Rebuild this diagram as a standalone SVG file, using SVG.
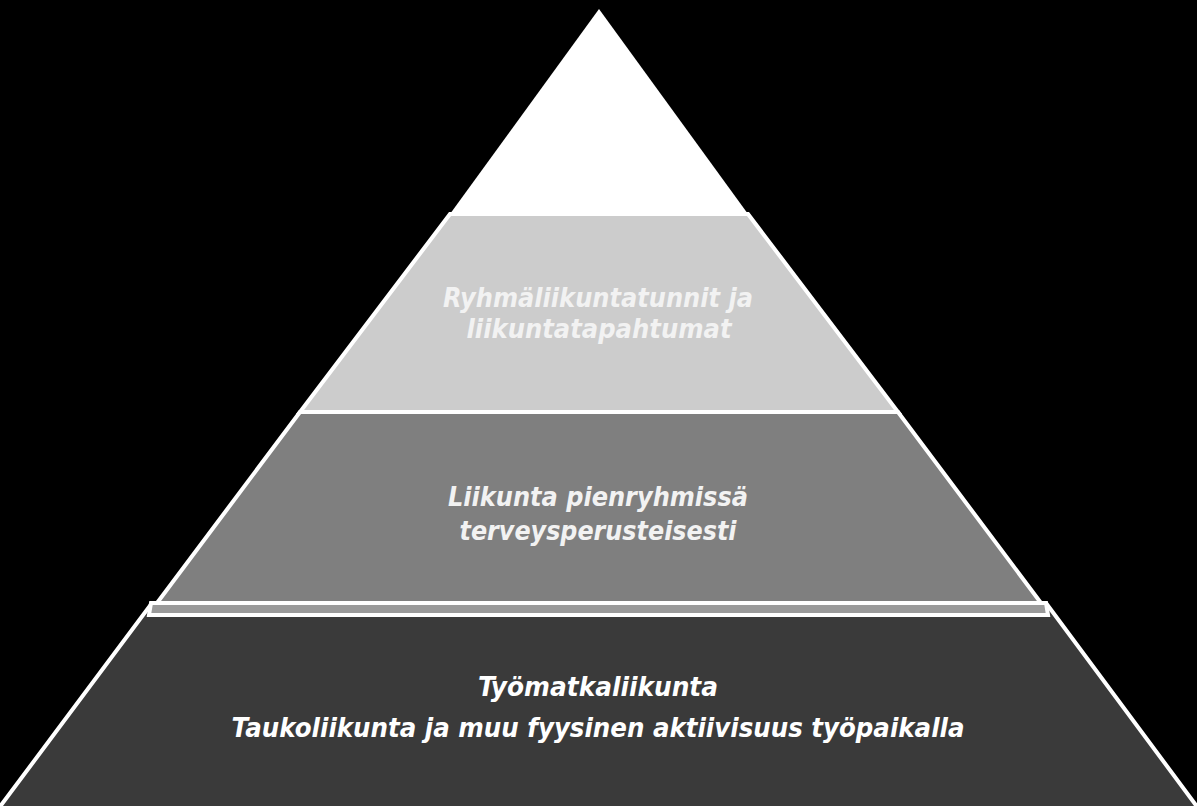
<svg xmlns="http://www.w3.org/2000/svg" width="1197" height="808" viewBox="0 0 1197 808">
<style>
.lyr{stroke:#ffffff;stroke-width:4;stroke-linejoin:miter}
.t{font-family:"DejaVu Sans","Liberation Sans",sans-serif;font-style:italic;font-weight:bold;font-size:27px;text-anchor:middle;fill:#f2f2f2}
.tb{font-family:"DejaVu Sans","Liberation Sans",sans-serif;font-style:italic;font-weight:bold;font-size:27px;text-anchor:middle;fill:#ffffff}
</style>
<rect x="0" y="0" width="1197" height="808" fill="#000000"/>
<g id="layer4">
<polygon class="lyr" points="152,603 1046,603 1198,808 -1,808" fill="#3a3a3a"/>
<polygon class="lyr" points="151,603 1046,603 1048,615 149,615" fill="#9a9a9a"/>
<text class="tb" x="598" y="696" textLength="240" lengthAdjust="spacingAndGlyphs">Työmatkaliikunta</text>
<text class="tb" x="598" y="737" textLength="733" lengthAdjust="spacingAndGlyphs">Taukoliikunta ja muu fyysinen aktiivisuus työpaikalla</text>
</g>
<g id="layer3">
<polygon class="lyr" points="300,412 898,412 1041,603 157,603" fill="#7f7f7f"/>
<text class="t" x="598" y="506" textLength="300" lengthAdjust="spacingAndGlyphs">Liikunta pienryhmissä</text>
<text class="t" x="598" y="540" textLength="277" lengthAdjust="spacingAndGlyphs">terveysperusteisesti</text>
</g>
<g id="layer2">
<polygon class="lyr" points="450,214 748,214 898,412 300,412" fill="#cccccc"/>
<text class="t" x="598" y="307" textLength="310" lengthAdjust="spacingAndGlyphs">Ryhmäliikuntatunnit ja</text>
<text class="t" x="599" y="338" textLength="265" lengthAdjust="spacingAndGlyphs">liikuntatapahtumat</text>
</g>
<g id="layer1">
<polygon points="599,9 748,214 450,214" fill="#ffffff"/>
</g>
<g id="connectors"></g>
</svg>
